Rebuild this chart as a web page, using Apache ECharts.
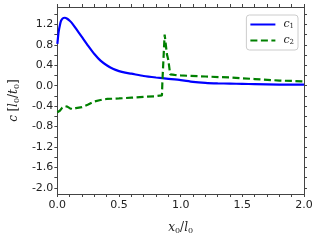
<!DOCTYPE html>
<html><head><meta charset="utf-8">
<script src="https://cdn.jsdelivr.net/npm/echarts@6/dist/echarts.min.js"></script>
<style>html,body{margin:0;padding:0;background:#fff}#c{width:320px;height:240px}</style>
</head><body><div id="c"></div>
<script>
var c1X = [0, 0.01, 0.02, 0.03, 0.045, 0.06, 0.08, 0.1, 0.12, 0.15, 0.2, 0.25, 0.3, 0.35, 0.4, 0.45, 0.5, 0.55, 0.6, 0.7, 0.8, 0.9, 1.0, 1.1, 1.2, 1.3, 1.4, 1.5, 1.6, 1.8, 2.0];
var c1Y = [0.82, 1.05, 1.18, 1.27, 1.32, 1.33, 1.31, 1.27, 1.22, 1.12, 0.95, 0.78, 0.62, 0.49, 0.40, 0.33, 0.285, 0.255, 0.235, 0.19, 0.16, 0.135, 0.11, 0.075, 0.055, 0.045, 0.04, 0.035, 0.03, 0.022, 0.02];
var c2X = [0, 0.02, 0.04, 0.06, 0.08, 0.1, 0.12, 0.15, 0.2, 0.25, 0.3, 0.35, 0.4, 0.5, 0.6, 0.7, 0.8, 0.848, 0.852, 0.86, 0.87, 0.877, 0.888, 0.9, 0.915, 0.95, 1.0, 1.2, 1.4, 1.6, 1.8, 2.0];
var c2Y = [-0.52, -0.49, -0.43, -0.40, -0.41, -0.44, -0.46, -0.44, -0.42, -0.37, -0.31, -0.28, -0.26, -0.25, -0.235, -0.22, -0.205, -0.19, 0.1, 0.5, 1.0, 0.98, 0.62, 0.5, 0.22, 0.21, 0.2, 0.18, 0.16, 0.13, 0.10, 0.085];
var xMajor = [0, 0.5, 1.0, 1.5, 2.0];
var xMinor = [0, 0.1, 0.2, 0.3, 0.4, 0.5, 0.6, 0.7, 0.8, 0.9, 1.0, 1.1, 1.2, 1.3, 1.4, 1.5, 1.6, 1.7, 1.8, 1.9, 2.0];
var yMajor = [-2.0, -1.6, -1.2, -0.8, -0.4, 0.0, 0.4, 0.8, 1.2];
var yMinor = [-2.0, -1.8, -1.6, -1.4, -1.2, -1.0, -0.8, -0.6, -0.4, -0.2, 0.0, 0.2, 0.4, 0.6, 0.8, 1.0, 1.2, 1.4];

function pairs(xs, ys){ return xs.map(function(x,i){ return [x, ys[i]]; }); }

var axisCol = '#444';
var rich = {
  i: {fontFamily: 'DejaVu Serif', fontStyle: 'italic', fontSize: 12, color: '#222'},
  n: {fontFamily: 'DejaVu Serif', fontSize: 12, color: '#222'},
  s: {fontFamily: 'DejaVu Serif', fontSize: 8, color: '#222', verticalAlign: 'bottom', padding: [6, 0, 0, 0]}
};
var legRich = {
  i: {fontFamily: 'DejaVu Serif', fontStyle: 'italic', fontSize: 11, color: '#222', lineHeight: 11},
  s: {fontFamily: 'DejaVu Serif', fontSize: 7, color: '#222', verticalAlign: 'bottom', lineHeight: 11, padding: [4, 0, 0, 0]}
};
function xAx(pos, show){
  return {
    type: 'value', position: pos, min: 0, max: 2.0,
    axisLine: {show: true, onZero: false, lineStyle: {color: axisCol, width: 1}},
    axisTick: {show: true, customValues: xMinor, length: 3, inside: false, lineStyle: {color: axisCol}},
    axisLabel: {show: show, customValues: xMajor, margin: 6, fontFamily: 'DejaVu Sans', fontSize: 11, color: '#222',
      formatter: function(v){ return v.toFixed(1); }},
    splitLine: {show: false}
  };
}
function yAx(pos, show){
  return {
    type: 'value', position: pos, min: -2.12, max: 1.54,
    axisLine: {show: true, onZero: false, lineStyle: {color: axisCol, width: 1}},
    axisTick: {show: true, customValues: yMinor, length: 3, inside: false, lineStyle: {color: axisCol}},
    axisLabel: {show: show, customValues: yMajor, margin: 4, fontFamily: 'DejaVu Sans', fontSize: 11, color: '#222',
      formatter: function(v){ return v.toFixed(1); }},
    splitLine: {show: false}
  };
}
var xb = xAx('bottom', true);
xb.name = '{i|x}{s|0}{n|/}{i|l}{s|0}';
xb.nameLocation = 'middle'; xb.nameGap = 27;
xb.nameTextStyle = {rich: rich};
var yl = yAx('left', true);
yl.name = '{i|c} {n|[}{i|l}{s|0}{n|/}{i|t}{s|0}{n|]}';
yl.nameLocation = 'middle'; yl.nameGap = 33; yl.nameRotate = 90;
yl.nameTextStyle = {rich: rich};

var chart = echarts.init(document.getElementById('c'), null, {renderer: 'canvas'});
chart.setOption({
  animation: false,
  grid: {left: 50, right: 16, top: 7, bottom: 44, containLabel: false},
  xAxis: [xb, xAx('top', false)],
  yAxis: [yl, yAx('right', false)],
  legend: {
    orient: 'vertical', right: 22, top: 15,
    itemWidth: 25, itemHeight: 10, itemGap: 5,
    padding: [4, 4, 4, 3],
    itemStyle: {opacity: 0},
    borderColor: '#ccc', borderWidth: 1, borderRadius: 3, backgroundColor: 'rgba(255,255,255,0.8)',
    textStyle: {rich: legRich, fontSize: 11, padding: [0, 0, 0, 3]},
    formatter: function(name){ return name === 'c1' ? '{i|c}{s|1}' : '{i|c}{s|2}'; },
    data: ['c1', 'c2']
  },
  series: [
    {name: 'c1', type: 'line', xAxisIndex: 0, yAxisIndex: 0, data: pairs(c1X, c1Y), symbol: 'none', smooth: 0.2,
     lineStyle: {color: '#0000ff', width: 2.2}, itemStyle: {color: '#0000ff'}},
    {name: 'c2', type: 'line', xAxisIndex: 0, yAxisIndex: 0, data: pairs(c2X, c2Y), symbol: 'none',
     lineStyle: {color: '#008000', width: 2.2, type: [7, 3.5]}, itemStyle: {color: '#008000'}}
  ]
});
</script></body></html>
